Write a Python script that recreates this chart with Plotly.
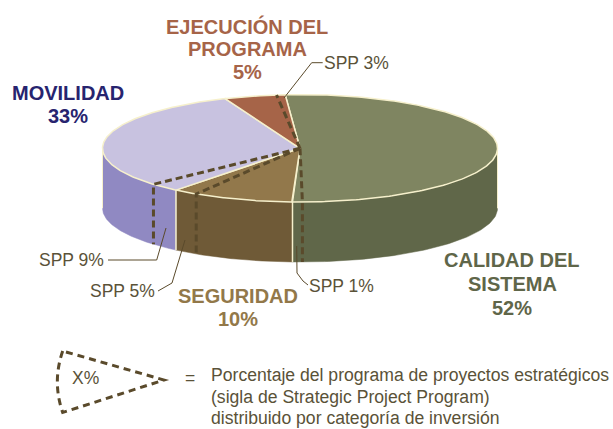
import numpy as np
import plotly.graph_objects as go

# --- data ---
categories = ["CALIDAD DEL SISTEMA", "SEGURIDAD", "MOVILIDAD", "EJECUCIÓN DEL PROGRAMA"]
shares = [51.8, 10.2, 33, 5]          # slice sizes
share_labels = ["52%", "10%", "33%", "5%"]
top_colors = ["#7F8561", "#92784B", "#C8C2E0", "#A66448"]
side_colors = ["#606749", "#6F5A37", "#9089C2", "#A66448"]
spp_labels = ["SPP 1%", "SPP 5%", "SPP 9%", "SPP 3%"]
# cumulative pie share (percent) at which each SPP dashed wedge edge sits
spp_edges = [51, 60, 64.5, 99.3]

# --- geometry of the drawing ---
W, H = 613, 429
CX, CY, RX, RY, DEPTH = 300, 148.3, 197.5, 53.7, 60
START = -4.3
CREAM = "#F6F0CC"
DASH = "#5A4A2B"
LEAD = "#5A4A2B"
HEAD = "Liberation Sans"
BODY = "Liberation Sans"


def pt(deg, drop=0.0):
    t = np.radians(deg)
    return CX + RX * np.sin(t), CY - RY * np.cos(t) + drop


def ang(cum):
    return START + 3.6 * cum


fig = go.Figure()


def add(x, y, **kw):
    fig.add_trace(go.Scatter(x=x, y=y, hoverinfo="skip", showlegend=False, **kw))


# side walls and top sectors from the shares
cum = np.cumsum([0] + shares)
for i in range(len(shares)):
    a, b = ang(cum[i]), ang(cum[i + 1])
    lo, hi = max(a, 90), min(b, 270)
    if hi > lo:
        ts = np.linspace(lo, hi, 80)
        x1, y1 = pt(ts)
        x2, y2 = pt(ts[::-1], DEPTH)
        add(np.r_[x1, x2, x1[0]], np.r_[y1, y2, y1[0]], mode="lines", fill="toself",
            fillcolor=side_colors[i], line=dict(color=side_colors[i], width=0.5))
for i in range(len(shares)):
    a, b = ang(cum[i]), ang(cum[i + 1])
    ts = np.linspace(a, b, 200)
    x1, y1 = pt(ts)
    add(np.r_[CX, x1, CX], np.r_[CY, y1, CY], mode="lines", fill="toself",
        fillcolor=top_colors[i], line=dict(color=CREAM, width=1.5))
    if 90 < b < 270:
        x0, y0 = pt(b)
        x3, y3 = pt(b, DEPTH)
        add([x0, x3], [y0, y3], mode="lines", line=dict(color=CREAM, width=1.5))
for d in (90, 270):
    x0, y0 = pt(d)
    x3, y3 = pt(d, DEPTH)
    add([x0, x3], [y0, y3], mode="lines", line=dict(color=CREAM, width=1))

# SPP dashed edges
for e in spp_edges:
    d = ang(e)
    x0, y0 = pt(d)
    xs, ys = [CX, x0], [CY, y0]
    if 90 < d < 270:
        x3, y3 = pt(d, DEPTH)
        xs.append(x3)
        ys.append(y3)
    add(xs, ys, mode="lines", line=dict(color=DASH, width=3, dash="7px,4px"))

# leader lines
leaders = [
    ([296.7, 297, 303, 308], [246, 273, 281, 285]),
    ([185, 172, 158], [240, 283, 291]),
    ([166, 156.7, 108], [228, 260, 260]),
    ([284, 311.7, 322.7], [98, 62.7, 62.7]),
]
for xs, ys in leaders:
    add(xs, ys, mode="lines", line=dict(color=LEAD, width=1))

annotations = []


def txt(s, x, y, color, size, font=BODY, bold=False, anchor="center"):
    annotations.append(dict(
        text=f"<b>{s}</b>" if bold else s, x=x, y=y, xref="x", yref="y",
        xanchor=anchor, yanchor="middle", showarrow=False,
        font=dict(family=font, size=size, color=color)))


# category headings
HS = 20
for s, y in (("EJECUCIÓN DEL", 26), ("PROGRAMA", 49), (share_labels[3], 72)):
    txt(s, 247, y, "#A66448", HS, HEAD, True)
for s, y in (("MOVILIDAD", 93), (share_labels[2], 116)):
    txt(s, 68, y, "#27246F", HS, HEAD, True)
for s, y in (("CALIDAD DEL", 260), ("SISTEMA", 284), (share_labels[0], 308)):
    txt(s, 512, y, "#5F6649", HS, HEAD, True)
for s, y in (("SEGURIDAD", 296), (share_labels[1], 319)):
    txt(s, 238, y, "#927849", HS, HEAD, True)

# SPP labels
TXT = "#5A5238"
txt(spp_labels[0], 306.5, 286, TXT, 17.5, anchor="left")
txt(spp_labels[1], 87.5, 291, TXT, 17.5, anchor="left")
txt(spp_labels[2], 36.5, 260, TXT, 17.5, anchor="left")
txt(spp_labels[3], 321.5, 63, TXT, 17.5, anchor="left")

# legend
txt("X%", 70, 378, TXT, 17.5, anchor="left")
txt("=", 183, 378, TXT, 17.5, anchor="left")
legend_lines = ["Porcentaje del programa de proyectos estratégicos",
                "(sigla de Strategic Project Program)",
                "distribuido por categoría de inversión"]
for s, y in zip(legend_lines, (375, 397, 417.5)):
    txt(s, 208.5, y, TXT, 17.6, anchor="left")

fig.update_layout(
    width=W, height=H, autosize=False,
    margin=dict(l=0, r=0, t=0, b=0),
    paper_bgcolor="white", plot_bgcolor="white",
    xaxis=dict(range=[0, W], visible=False, fixedrange=True),
    yaxis=dict(range=[H, 0], visible=False, fixedrange=True),
    annotations=annotations,
    shapes=[dict(type="path", xref="x", yref="y",
                 path="M 62.7 351 Q 52 382 62.7 412.5 L 164 380 Z",
                 line=dict(color=DASH, width=3, dash="7px,5px"))],
)

fig.write_html("out.html", config={"displayModeBar": False, "staticPlot": True},
               post_script="document.body.style.margin='0';document.body.style.overflow='hidden';")
